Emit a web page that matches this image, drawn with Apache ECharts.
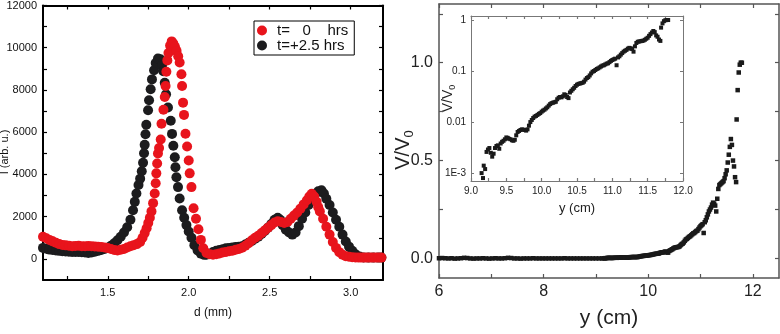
<!DOCTYPE html>
<html><head><meta charset="utf-8">
<script src="https://cdn.jsdelivr.net/npm/echarts@6/dist/echarts.min.js"></script>
<style>html,body{margin:0;padding:0;background:#fff}#c{width:780px;height:334px}</style>
</head><body><div id="c"></div>
<script>
// ---------- Left panel: intensity profiles ----------
const redName = 't=   0    hrs';
const blkName = 't=+2.5 hrs';
const dTicks = [1.25,1.5,1.75,2.0,2.25,2.5,2.75,3.0];
const dLabels = [1.5,2.0,2.5,3.0];
const iTicks = [0,1000,2000,3000,4000,5000,6000,7000,8000,9000,10000,11000,12000];
const iLabels = [0,2000,4000,6000,8000,10000,12000];

const redD = [1.10,1.12,1.14,1.16,1.18,1.20,1.22,1.24,1.26,1.28,1.30,1.32,1.34,1.36,1.38,1.40,1.42,1.44,1.46,1.48,
  1.50,1.52,1.54,1.56,1.58,1.60,1.62,1.64,1.66,1.68,1.70,1.715,1.728,1.74,1.75,1.76,1.77,1.78,1.79,1.796,
  1.80,1.805,1.81,1.817,1.827,1.832,1.844,1.852,1.857,1.862,1.868,1.875,1.885,1.895,1.905,1.915,1.925,1.935,1.944,1.955,
  1.959,1.965,1.971,1.98,1.99,2.00,2.006,2.017,2.03,2.045,2.06,2.075,2.09,2.11,2.13,2.15,2.17,2.19,2.21,2.23,
  2.25,2.27,2.29,2.31,2.33,2.35,2.37,2.39,2.41,2.43,2.45,2.47,2.49,2.51,2.53,2.55,2.57,2.59,2.61,2.63,
  2.65,2.67,2.69,2.71,2.73,2.745,2.76,2.775,2.79,2.80,2.81,2.83,2.85,2.87,2.89,2.91,2.93,2.95,2.97,2.99,
  3.01,3.03,3.05,3.07,3.09,3.11,3.13,3.15,3.17,3.19];
const redI = [1050,980,900,830,760,700,660,640,620,600,610,620,600,600,610,600,590,580,560,540,
  510,470,420,400,430,470,540,600,650,700,800,1000,1220,1450,1700,1950,2250,2640,3100,3580,
  4050,4520,4990,5250,5650,6400,7060,7670,8190,8860,9400,9750,10100,10300,10200,10050,9850,9600,9300,8740,
  8190,7400,6820,5930,5320,4660,4050,3400,2400,1900,1400,900,500,280,220,200,220,260,300,330,
  360,390,430,470,530,620,740,880,1000,1100,1220,1350,1480,1600,1720,1780,1750,1700,1750,1900,
  2050,2200,2380,2580,2780,2950,3080,2950,2700,2450,2250,1900,1520,1150,800,520,320,200,130,100,
  80,70,60,60,60,60,60,60,60,60];

const blkD = [1.10,1.12,1.14,1.16,1.18,1.20,1.22,1.24,1.26,1.28,1.30,1.32,1.34,1.36,1.38,1.40,1.42,1.44,1.46,1.48,
  1.50,1.52,1.54,1.56,1.58,1.60,1.62,1.64,1.656,1.667,1.677,1.69,1.70,1.71,1.718,1.724,1.728,1.733,1.738,1.749,
  1.755,1.765,1.773,1.786,1.796,1.81,1.825,1.835,1.843,1.852,1.86,1.872,1.889,1.897,1.905,1.914,1.918,1.924,1.934,1.944,
  1.959,1.972,1.986,2.00,2.017,2.035,2.055,2.075,2.095,2.11,2.13,2.15,2.17,2.19,2.21,2.23,2.25,2.27,2.29,2.31,
  2.33,2.35,2.37,2.39,2.41,2.43,2.45,2.47,2.49,2.51,2.53,2.55,2.565,2.58,2.60,2.62,2.64,2.66,2.68,2.70,
  2.72,2.74,2.76,2.78,2.80,2.82,2.835,2.85,2.87,2.89,2.91,2.93,2.95,2.97,2.99,3.01,3.03,3.055,3.08,3.11,
  3.14,3.17,3.19];
const blkI = [520,480,440,420,400,380,360,350,340,330,330,330,310,300,280,300,340,380,420,470,
  530,620,740,880,1050,1250,1500,1850,2300,2700,3100,3500,3800,4150,4550,5000,5400,5900,6350,7040,
  7510,8030,8500,8930,9280,9490,9450,9150,8890,8340,7800,7170,6540,5920,5360,4810,4340,3870,3400,2860,
  2300,1950,1600,1300,1000,650,400,250,190,200,230,330,380,420,460,500,520,540,560,580,
  600,680,760,850,950,1050,1180,1320,1480,1650,1850,1950,1850,1600,1380,1250,1150,1250,1550,1900,
  2200,2550,2850,3050,3200,3250,3100,2850,2550,2200,1850,1520,1150,820,580,380,220,110,70,60,
  60,60,60];

// ---------- Right panel: V/V0 vs y ----------
const yTicksMain = [6,7,8,9,10,11,12];
const yLabelsMain = [6,8,10,12];
const vTicksMain = [0,0.25,0.5,0.75,1.0,1.25];
const vLabelsMain = [0,0.5,1.0];

const flatY = [6.00,6.06,6.12,6.18,6.24,6.30,6.36,6.42,6.48,6.54,6.60,6.66,6.72,6.78,6.84,6.90,6.96,7.02,7.08,7.14,
  7.20,7.26,7.32,7.38,7.44,7.50,7.56,7.62,7.68,7.74,7.80,7.86,7.92,7.98,8.04,8.10,8.16,8.22,8.28,8.34,
  8.40,8.46,8.52,8.58,8.64,8.70,8.76,8.82,8.88,8.94,9.00,9.06,9.12];
const flatV = [0.001,0.002,0.001,0.000,0.001,-0.001,0.000,0.001,0.003,0.002,0.000,-0.001,0.000,0.000,0.001,0.000,-0.001,0.000,0.001,0.000,
  0.000,0.001,0.003,0.002,0.000,0.000,-0.001,0.000,0.000,0.000,0.001,0.000,0.000,0.000,0.000,0.000,0.000,0.000,0.000,0.000,
  0.001,0.000,0.000,0.000,0.000,0.000,0.000,0.000,0.000,0.000,0.000,0.000,0.000];

const curveY = [9.15,9.17,9.18,9.20,9.22,9.24,9.26,9.28,9.30,9.32,9.34,9.36,9.38,9.40,9.42,9.44,9.46,9.48,9.50,9.52,
  9.54,9.56,9.58,9.60,9.62,9.64,9.66,9.68,9.70,9.72,9.74,9.76,9.78,9.80,9.82,9.84,9.86,9.88,9.90,9.92,
  9.94,9.96,9.98,10.00,10.02,10.04,10.06,10.08,10.10,10.12,10.14,10.16,10.18,10.20,10.22,10.24,10.26,10.28,10.30,10.32,
  10.34,10.36,10.38,10.40,10.42,10.44,10.46,10.48,10.50,10.52,10.54,10.56,10.58,10.60,10.62,10.64,10.66,10.68,10.70,10.72,
  10.74,10.76,10.78,10.80,10.82,10.84,10.86,10.88,10.90,10.92,10.94,10.96,10.98,11.00,11.02,11.04,11.06,11.08,11.10,11.12,
  11.14,11.16,11.18,11.20,11.22,11.24,11.26,11.28,11.30,11.32,11.34,11.36,11.38,11.40,11.42,11.44,11.46,11.48,11.50,11.52,
  11.54,11.56,11.58,11.60,11.62,11.64,11.66,11.68,11.69,11.71,11.73,11.75,11.77,11.79];
const curveV = [0.0010,0.0008,0.0014,0.0012,0.0026,0.0029,0.0031,0.0025,0.0021,0.0024,0.0031,0.0034,0.0035,0.0030,0.0038,0.0041,0.0043,0.0046,0.0050,0.0049,
  0.0047,0.0046,0.0044,0.0043,0.0045,0.0055,0.0064,0.0067,0.0070,0.0072,0.0071,0.0070,0.0068,0.0072,0.0085,0.0100,0.0110,0.0120,0.0128,0.0132,
  0.0138,0.0145,0.0150,0.0160,0.0168,0.0175,0.0185,0.0195,0.0210,0.0225,0.0235,0.0240,0.0245,0.0250,0.0280,0.0300,0.0310,0.0305,0.0320,0.0350,
  0.0340,0.0310,0.0295,0.0380,0.0410,0.0440,0.0470,0.0510,0.0540,0.0560,0.0570,0.0580,0.0590,0.0620,0.0680,0.0730,0.0760,0.0820,0.0900,0.0970,
  0.1000,0.1050,0.1100,0.1130,0.1180,0.1230,0.1280,0.1300,0.1350,0.1400,0.1420,0.1500,0.1580,0.1650,0.1700,0.1750,0.1300,0.1850,0.1950,0.2100,
  0.2250,0.2400,0.2500,0.2600,0.2750,0.2850,0.2800,0.2700,0.2400,0.3050,0.3550,0.3750,0.3800,0.3850,0.3900,0.3950,0.4100,0.4300,0.4500,0.4900,
  0.5300,0.5700,0.6100,0.5800,0.5000,0.4700,0.4150,0.3900,0.7100,0.8600,0.9500,0.9900,1.0000,1.0000];

// inset ticks
const yTicksInset = [9,9.25,9.5,9.75,10,10.25,10.5,10.75,11,11.25,11.5,11.75,12];
const yLabelsInset = [9,9.5,10,10.5,11,11.5,12];

function zip(a, b) { return a.map((v, i) => [v, b[i]]); }

const FONT = '"Liberation Sans", Arial, Helvetica, sans-serif';

function frameX(grid, pos, min, max, ticks, color, width, tlen, extra) {
  return Object.assign({
    gridIndex: grid, type: 'value', position: pos, min: min, max: max,
    axisLine: { onZero: false, lineStyle: { color: color, width: width } },
    axisTick: { inside: true, length: tlen, customValues: ticks, lineStyle: { color: color, width: 1.2 } },
    axisLabel: { show: false },
    splitLine: { show: false }
  }, extra || {});
}

const chart = echarts.init(document.getElementById('c'), null, { renderer: 'canvas' });
const option = {
  animation: false,
  textStyle: { fontFamily: FONT },
  grid: [
    { left: 43, top: 4, width: 340, height: 276 },
    { left: 439, top: 4, width: 340, height: 275 },
    { left: 471, top: 16, width: 212, height: 165 }
  ],
  legend: {
    data: [redName, blkName],
    orient: 'vertical', left: 254, top: 21,
    padding: [2, 6, 2, 3], itemGap: 0,
    itemWidth: 20, itemHeight: 10, icon: 'circle',
    borderColor: '#000', borderWidth: 1,
    selectedMode: false,
    textStyle: { fontSize: 15, color: '#111', fontFamily: FONT }
  },
  graphic: [
    { type: 'text', x: 5, y: 152, rotation: Math.PI / 2,
      style: { text: 'I (arb. u.)', font: '11px ' + FONT, fill: '#111', align: 'center', verticalAlign: 'middle' } },
    { type: 'text', x: 403, y: 150, rotation: Math.PI / 2,
      style: { text: '{a|V/V}{b|0}', align: 'center', verticalAlign: 'middle', fill: '#222',
        rich: { a: { fontSize: 20, lineHeight: 26, fontFamily: FONT, fill: '#222' },
                b: { fontSize: 13, verticalAlign: 'bottom', lineHeight: 26, fontFamily: FONT, fill: '#222' } } } }
  ],
  xAxis: [
    frameX(0, 'bottom', 1.1, 3.2, dTicks, '#000', 2, 4, {
      axisLabel: { customValues: dLabels, formatter: v => v.toFixed(1), fontSize: 11, color: '#111', margin: 7 },
      name: 'd (mm)', nameLocation: 'middle', nameGap: 27, nameTextStyle: { fontSize: 12, color: '#111' } }),
    frameX(0, 'top', 1.1, 3.2, dTicks, '#000', 2, 4),
    frameX(1, 'bottom', 6, 12.5, yTicksMain, '#555', 1.5, 4, {
      axisLabel: { customValues: yLabelsMain, formatter: v => String(v), fontSize: 16, color: '#222', margin: 6 },
      name: 'y (cm)', nameLocation: 'middle', nameGap: 30, nameTextStyle: { fontSize: 21, color: '#222' } }),
    frameX(1, 'top', 6, 12.5, yTicksMain, '#555', 1.5, 4),
    frameX(2, 'bottom', 9, 12, yTicksInset, '#777', 1, 3, {
      axisLabel: { customValues: yLabelsInset, formatter: v => v.toFixed(1), fontSize: 10, color: '#222', margin: 5 },
      name: 'y (cm)', nameLocation: 'middle', nameGap: 21, nameTextStyle: { fontSize: 13, color: '#222' } }),
    frameX(2, 'top', 9, 12, yTicksInset, '#777', 1, 3)
  ],
  yAxis: [
    frameX(0, 'left', -1000, 12000, iTicks, '#000', 2, 4, {
      axisLabel: { customValues: iLabels, formatter: v => String(v), fontSize: 11, color: '#111', margin: 6 } }),
    frameX(0, 'right', -1000, 12000, iTicks, '#000', 2, 4),
    frameX(1, 'left', -0.1, 1.3, vTicksMain, '#555', 1.5, 4, {
      axisLabel: { customValues: vLabelsMain, formatter: v => v.toFixed(1), fontSize: 16, color: '#222', margin: 6 } }),
    frameX(1, 'right', -0.1, 1.3, vTicksMain, '#555', 1.5, 4),
    { gridIndex: 2, type: 'log', logBase: 10, position: 'left', min: 0.0007, max: 1.2,
      axisLine: { onZero: false, lineStyle: { color: '#777', width: 1 } },
      axisTick: { inside: true, length: 3, lineStyle: { color: '#777' } },
      axisLabel: { fontSize: 10, color: '#222', margin: 5, showMinLabel: false, showMaxLabel: false,
        formatter: v => (v < 0.005 ? '1E-3' : String(+v.toPrecision(2))) },
      splitLine: { show: false },
      name: '{a|V/V}{b|0}', nameLocation: 'middle', nameGap: 14, nameRotate: 90, nameMoveOverlap: false,
      nameTextStyle: { color: '#222', rich: { a: { fontSize: 14, lineHeight: 18, fontFamily: FONT }, b: { fontSize: 9, verticalAlign: 'bottom', lineHeight: 18, fontFamily: FONT } } } },
    { gridIndex: 2, type: 'log', logBase: 10, position: 'right', min: 0.0007, max: 1.2,
      axisLine: { onZero: false, lineStyle: { color: '#777', width: 1 } },
      axisTick: { inside: true, length: 3, lineStyle: { color: '#777' } },
      axisLabel: { show: false }, splitLine: { show: false } }
  ],
  series: [
    { type: 'scatter', name: blkName, xAxisIndex: 0, yAxisIndex: 0, data: zip(blkD, blkI),
      symbol: 'circle', symbolSize: 10, itemStyle: { color: '#1c1c1e', opacity: 1 } },
    { type: 'scatter', name: redName, xAxisIndex: 0, yAxisIndex: 0, data: zip(redD, redI),
      symbol: 'circle', symbolSize: 10, itemStyle: { color: '#e8141c', opacity: 1 } },
    { type: 'scatter', xAxisIndex: 2, yAxisIndex: 2, data: zip(flatY, flatV).concat(zip(curveY, curveV)),
      symbol: 'rect', symbolSize: 4.5, itemStyle: { color: '#1a1a1a', opacity: 1 } },
    { type: 'scatter', xAxisIndex: 4, yAxisIndex: 4, data: zip(curveY, curveV),
      symbol: 'rect', symbolSize: 4, itemStyle: { color: '#1a1a1a', opacity: 1 } }
  ]
};
chart.setOption(option);
</script>
</body></html>
